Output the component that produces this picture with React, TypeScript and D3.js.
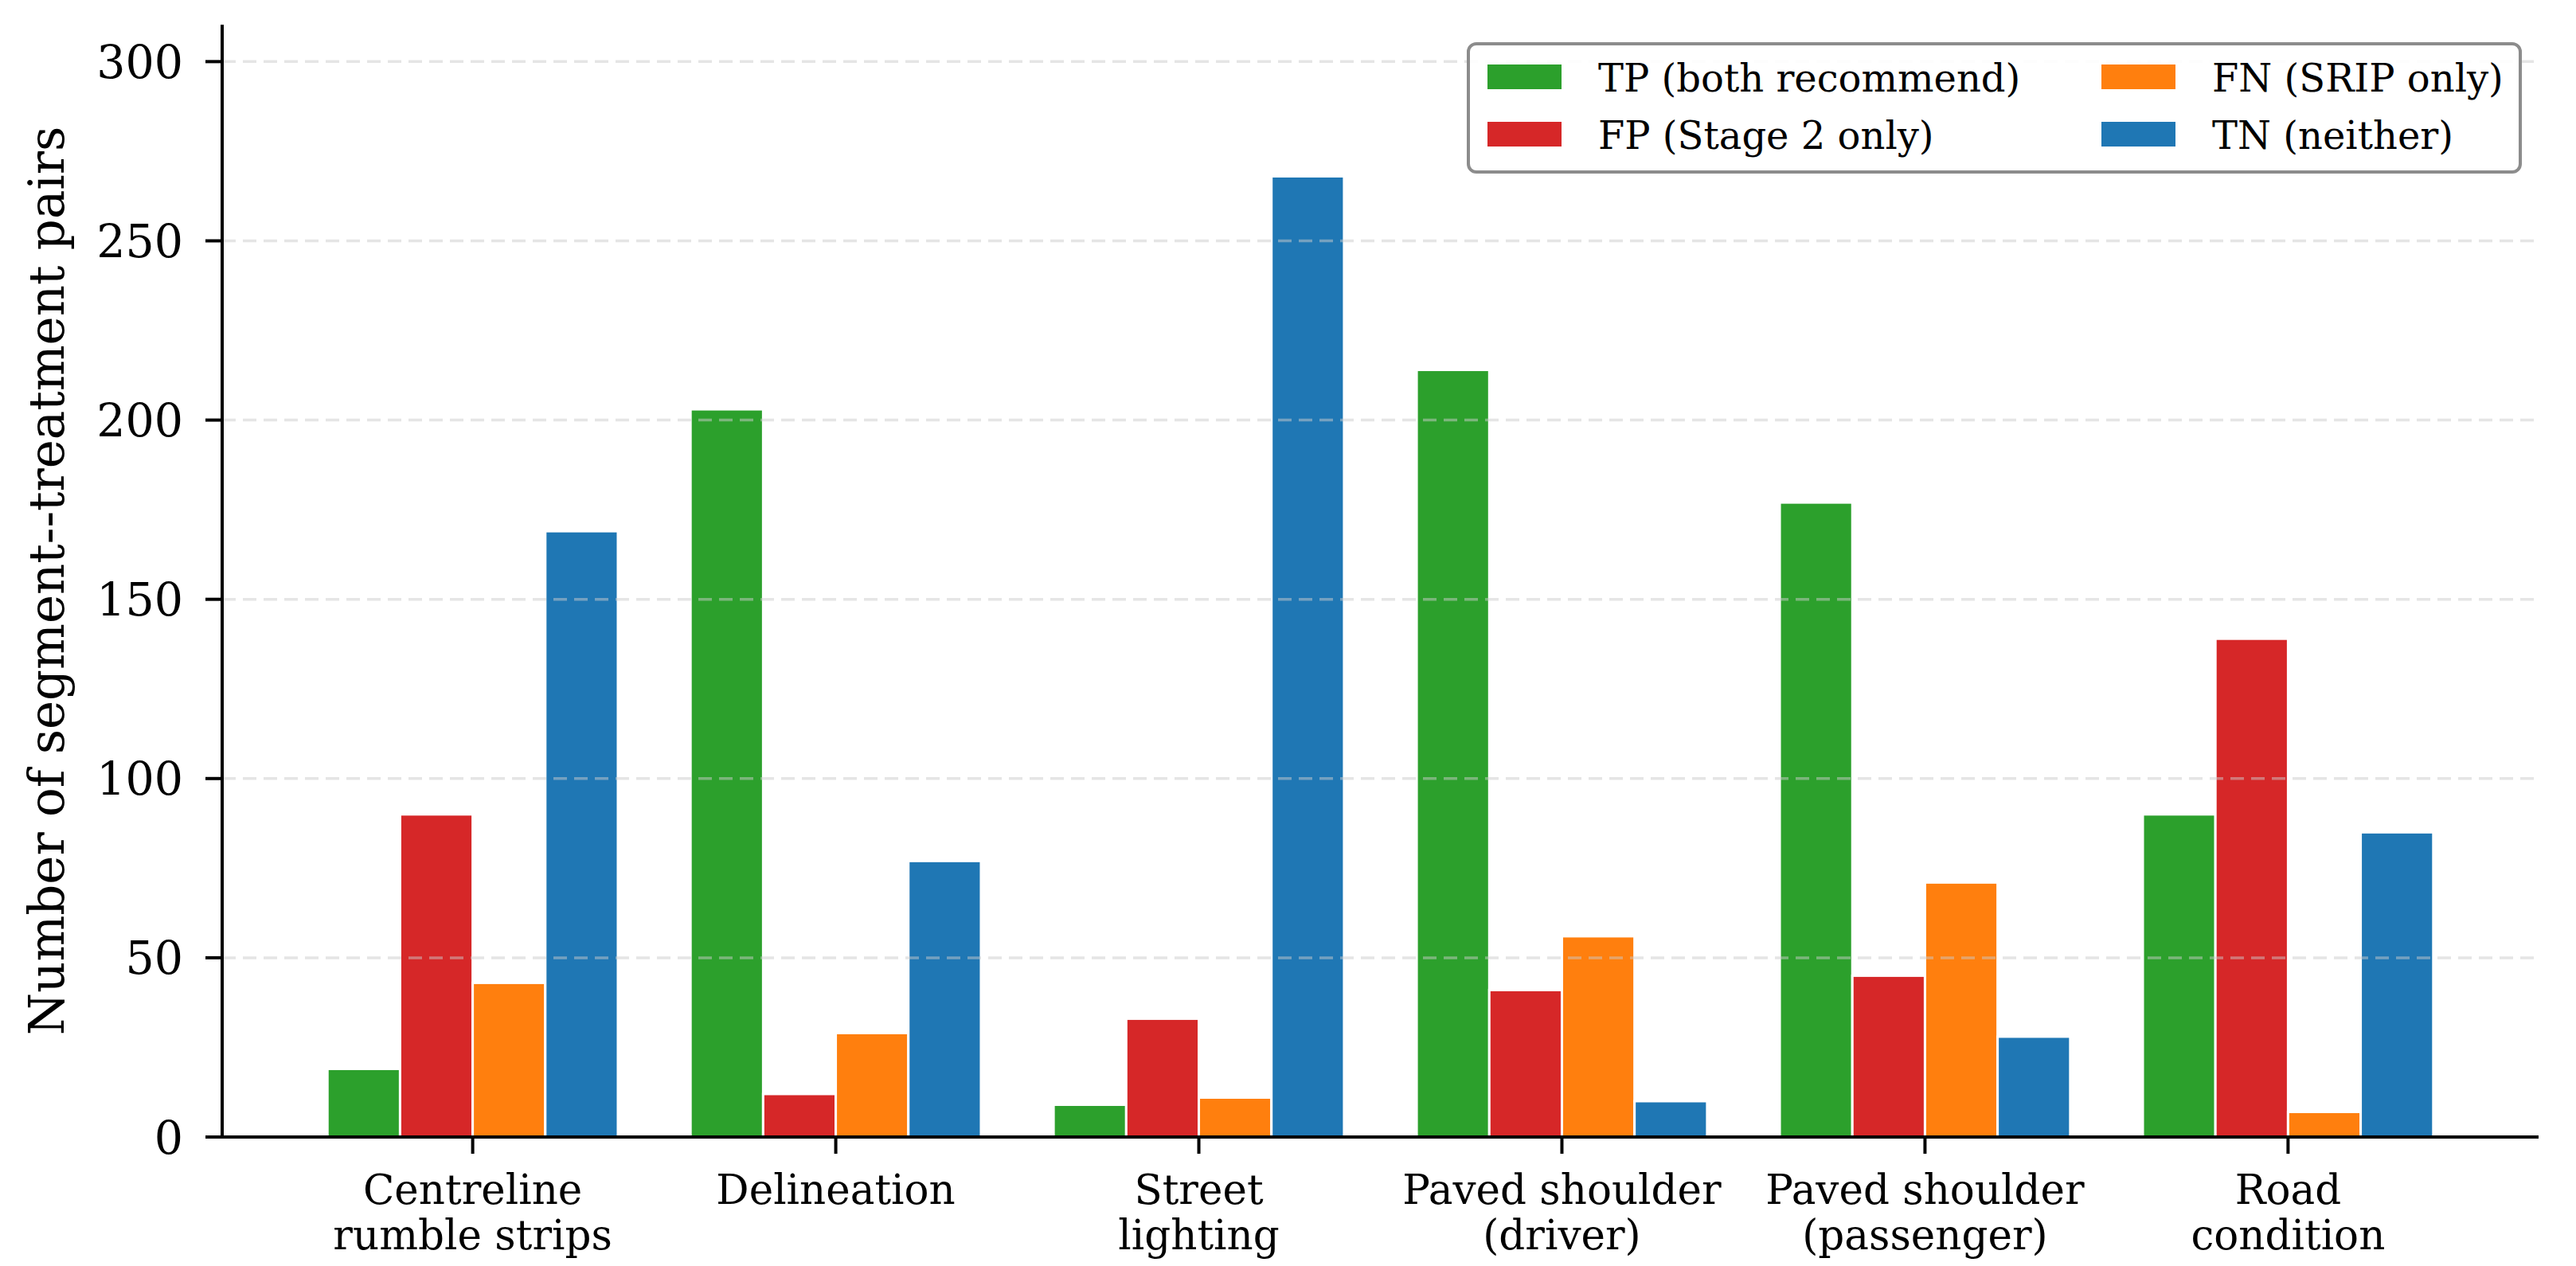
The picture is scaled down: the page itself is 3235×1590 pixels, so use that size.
import * as d3 from "d3";

const WIDTH = 3235;
const HEIGHT = 1590;
const MARGIN = { top: 31, right: 47, bottom: 162, left: 279 };

const FONT = "'DejaVu Serif', serif";

// treatment categories (tick labels are split over two lines)
const categories = [
  "Centreline rumble strips",
  "Delineation",
  "Street lighting",
  "Paved shoulder (driver)",
  "Paved shoulder (passenger)",
  "Road condition",
];
const tickLines = [
  ["Centreline", "rumble strips"],
  ["Delineation"],
  ["Street", "lighting"],
  ["Paved shoulder", "(driver)"],
  ["Paved shoulder", "(passenger)"],
  ["Road", "condition"],
];

// counts per category, one array per confusion cell
const tpValues = [19, 203, 9, 214, 177, 90];
const fpValues = [90, 12, 33, 41, 45, 139];
const fnValues = [43, 29, 11, 56, 71, 7];
const tnValues = [169, 77, 268, 10, 28, 85];

const seriesNames = [
  "TP (both recommend)",
  "FP (Stage 2 only)",
  "FN (SRIP only)",
  "TN (neither)",
];
const seriesColors = ["#2ca02c", "#d62728", "#ff7f0e", "#1f77b4"];
const yTicks = [0, 50, 100, 150, 200, 250, 300];

const BAR_W = 0.2;

export default function App() {
  const boundsWidth = WIDTH - MARGIN.left - MARGIN.right;
  const boundsHeight = HEIGHT - MARGIN.top - MARGIN.bottom;

  const series = [tpValues, fpValues, fnValues, tnValues];

  // numeric x so bars can be offset around each category position
  const xScale = d3
    .scaleLinear()
    .domain([-0.69, categories.length - 1 + 0.69])
    .range([0, boundsWidth]);
  const yScale = d3.scaleLinear().domain([0, 310.3]).range([boundsHeight, 0]);
  const pxPerUnit = xScale(1) - xScale(0);

  const bars = series.flatMap((vals, s) =>
    vals.map((v, i) => {
      const x0 = xScale(i + (s - 1.5) * BAR_W - BAR_W / 2);
      return (
        <rect
          key={`${s}-${i}`}
          x={x0}
          y={yScale(v)}
          width={BAR_W * pxPerUnit}
          height={yScale(0) - yScale(v)}
          fill={seriesColors[s]}
          stroke="#ffffff"
          strokeWidth={3}
        />
      );
    })
  );

  // legend layout (two columns, upper right)
  const legend = { x: 1844, y: 55, w: 1321, h: 161 };
  const colX = [1868, 2639];
  const rowY = [81, 153];

  return (
    <div style={{ position: "absolute", left: 0, top: 0 }}>
      <svg width={WIDTH} height={HEIGHT} style={{ display: "block", background: "#fff" }}>
        <g transform={`translate(${MARGIN.left},${MARGIN.top})`}>
          {bars}

          {/* horizontal dashed grid, drawn over the bars */}
          {yTicks.slice(1).map((t) => (
            <line
              key={t}
              x1={0}
              x2={boundsWidth}
              y1={yScale(t)}
              y2={yScale(t)}
              stroke="#cccccc"
              strokeOpacity={0.5}
              strokeWidth={3.5}
              strokeDasharray="17 9"
            />
          ))}

          {/* y axis */}
          <line x1={0} x2={0} y1={0} y2={boundsHeight} stroke="#000" strokeWidth={4} />
          {yTicks.map((t) => (
            <g key={t} transform={`translate(0,${yScale(t)})`}>
              <line x1={-21} x2={0} stroke="#000" strokeWidth={4} />
              <text
                x={-49}
                dy="0.36em"
                textAnchor="end"
                fontFamily={FONT}
                fontSize={57}
                fill="#000"
              >
                {t}
              </text>
            </g>
          ))}

          {/* x axis */}
          <line
            x1={-2}
            x2={boundsWidth}
            y1={boundsHeight}
            y2={boundsHeight}
            stroke="#000"
            strokeWidth={4}
          />
          {categories.map((c, i) => (
            <g key={c} transform={`translate(${xScale(i)},${boundsHeight})`}>
              <line y1={0} y2={21} stroke="#000" strokeWidth={4} />
              {tickLines[i].map((line, k) => (
                <text
                  key={k}
                  y={84 + k * 57}
                  textAnchor="middle"
                  fontFamily={FONT}
                  fontSize={51.5}
                  fill="#000"
                >
                  {line}
                </text>
              ))}
            </g>
          ))}
        </g>

        <text
          transform={`translate(80,${MARGIN.top + boundsHeight / 2}) rotate(-90)`}
          textAnchor="middle"
          fontFamily={FONT}
          fontSize={61}
          fill="#000"
        >
          Number of segment--treatment pairs
        </text>

        {/* legend */}
        <rect
          x={legend.x}
          y={legend.y}
          width={legend.w}
          height={legend.h}
          rx={10}
          fill="#ffffff"
          fillOpacity={0.9}
          stroke="#8c8c8c"
          strokeWidth={4}
        />
        {seriesNames.map((name, s) => {
          const col = Math.floor(s / 2);
          const row = s % 2;
          return (
            <g key={name} transform={`translate(${colX[col]},${rowY[row]})`}>
              <rect width={93} height={31} fill={seriesColors[s]} />
              <text
                x={139}
                y={34}
                fontFamily={FONT}
                fontSize={48}
                fill="#000"
              >
                {name}
              </text>
            </g>
          );
        })}
      </svg>
    </div>
  );
}
